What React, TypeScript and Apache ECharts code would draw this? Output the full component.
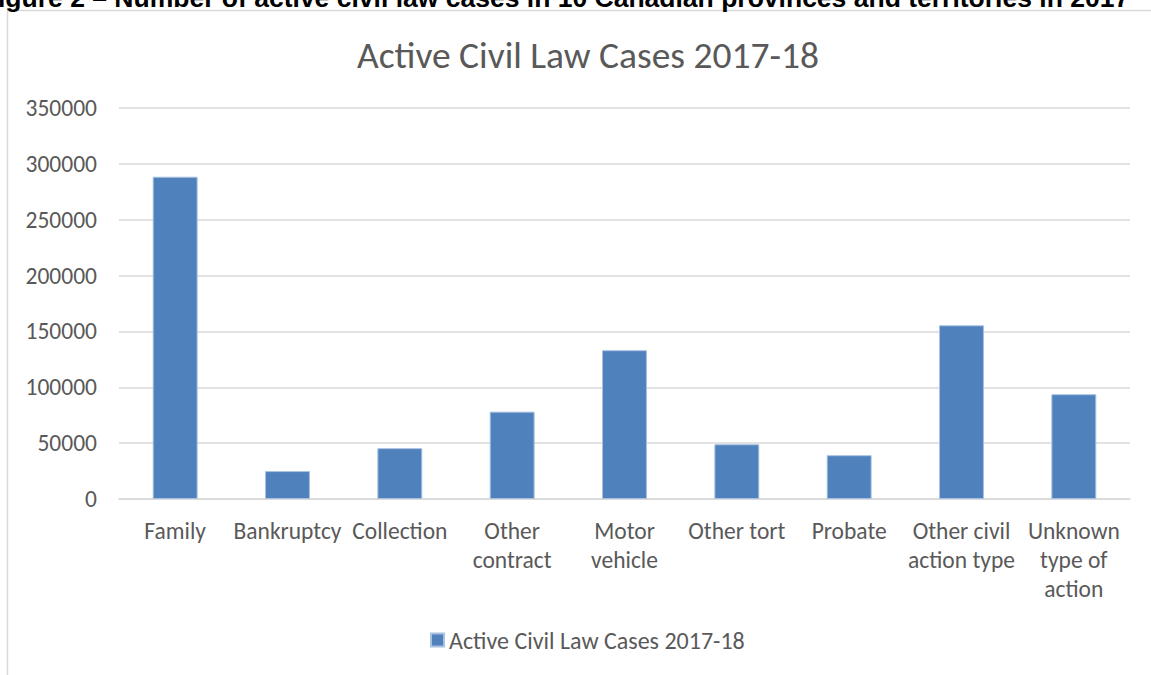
import React, { useEffect, useRef } from "react";
import * as echarts from "echarts";

const categories = [
  "Family",
  "Bankruptcy",
  "Collection",
  "Other\ncontract",
  "Motor\nvehicle",
  "Other tort",
  "Probate",
  "Other civil\naction type",
  "Unknown\ntype of\naction",
];
const values = [288500, 25000, 45500, 78200, 133200, 49000, 39200, 155500, 93800];
const seriesName = "Active Civil Law Cases 2017-18";
const chartTitle = "Active Civil Law Cases 2017-18";
const headerText =
  "igure 2 \u2013 Number of active civil law cases in 10 Canadian provinces and territories in 2017";

const FONT = "Carlito, Lato, sans-serif";

export default function App() {
  const ref = useRef<HTMLDivElement>(null);
  useEffect(() => {
    if (!ref.current) return;
    const chart = echarts.init(ref.current, undefined, { renderer: "svg" });
    chart.setOption({
      animation: false,
      backgroundColor: "#ffffff",
      title: {
        text: chartTitle,
        left: 583,
        textAlign: "center",
        top: 31,
        textStyle: { fontFamily: FONT, fontSize: 37.5, fontWeight: "normal", color: "#595959" },
      },
      graphic: [
        {
          type: "rect",
          shape: { x: 7.5, y: 10.5, width: 1200, height: 800 },
          style: { fill: "none", stroke: "#d9d9d9", lineWidth: 1.5 },
          silent: true,
        },
        {
          type: "text",
          x: -2,
          y: 11,
          style: {
            text: headerText,
            fontFamily: "'Liberation Sans', Arial, sans-serif",
            fontWeight: "bold",
            fontSize: 26.5,
            fill: "#000000",
            verticalAlign: "bottom",
          },
        },
      ],
      legend: {
        bottom: 18,
        left: 425,
        itemWidth: 13,
        itemHeight: 13,
        itemGap: 7,
        icon: "rect",
        textStyle: { fontFamily: FONT, fontSize: 24, color: "#595959" },
        data: [seriesName],
      },
      grid: { left: 119, right: 21, top: 108, bottom: 176, containLabel: false },
      xAxis: {
        type: "category",
        data: categories,
        axisLine: { lineStyle: { color: "#d9d9d9", width: 1.5 } },
        axisTick: { show: false },
        axisLabel: {
          fontFamily: FONT,
          fontSize: 23.5,
          color: "#595959",
          lineHeight: 29,
          margin: 17,
          interval: 0,
        },
      },
      yAxis: {
        type: "value",
        min: 0,
        max: 350000,
        interval: 50000,
        axisLine: { show: false },
        axisTick: { show: false },
        splitLine: { lineStyle: { color: "#d9d9d9", width: 1.5 } },
        axisLabel: {
          fontFamily: FONT,
          fontSize: 23.5,
          color: "#595959",
          margin: 22,
          formatter: (v: number) => String(v),
        },
      },
      series: [
        {
          name: seriesName,
          type: "bar",
          data: values,
          barWidth: "40%",
          itemStyle: { color: "#4f81bd", borderColor: "#a9c1e0", borderWidth: 1 },
        },
      ],
    });
    return () => chart.dispose();
  }, []);
  return (
    <div
      ref={ref}
      style={{ position: "fixed", left: 0, top: 0, width: 1151, height: 675 }}
    />
  );
}
